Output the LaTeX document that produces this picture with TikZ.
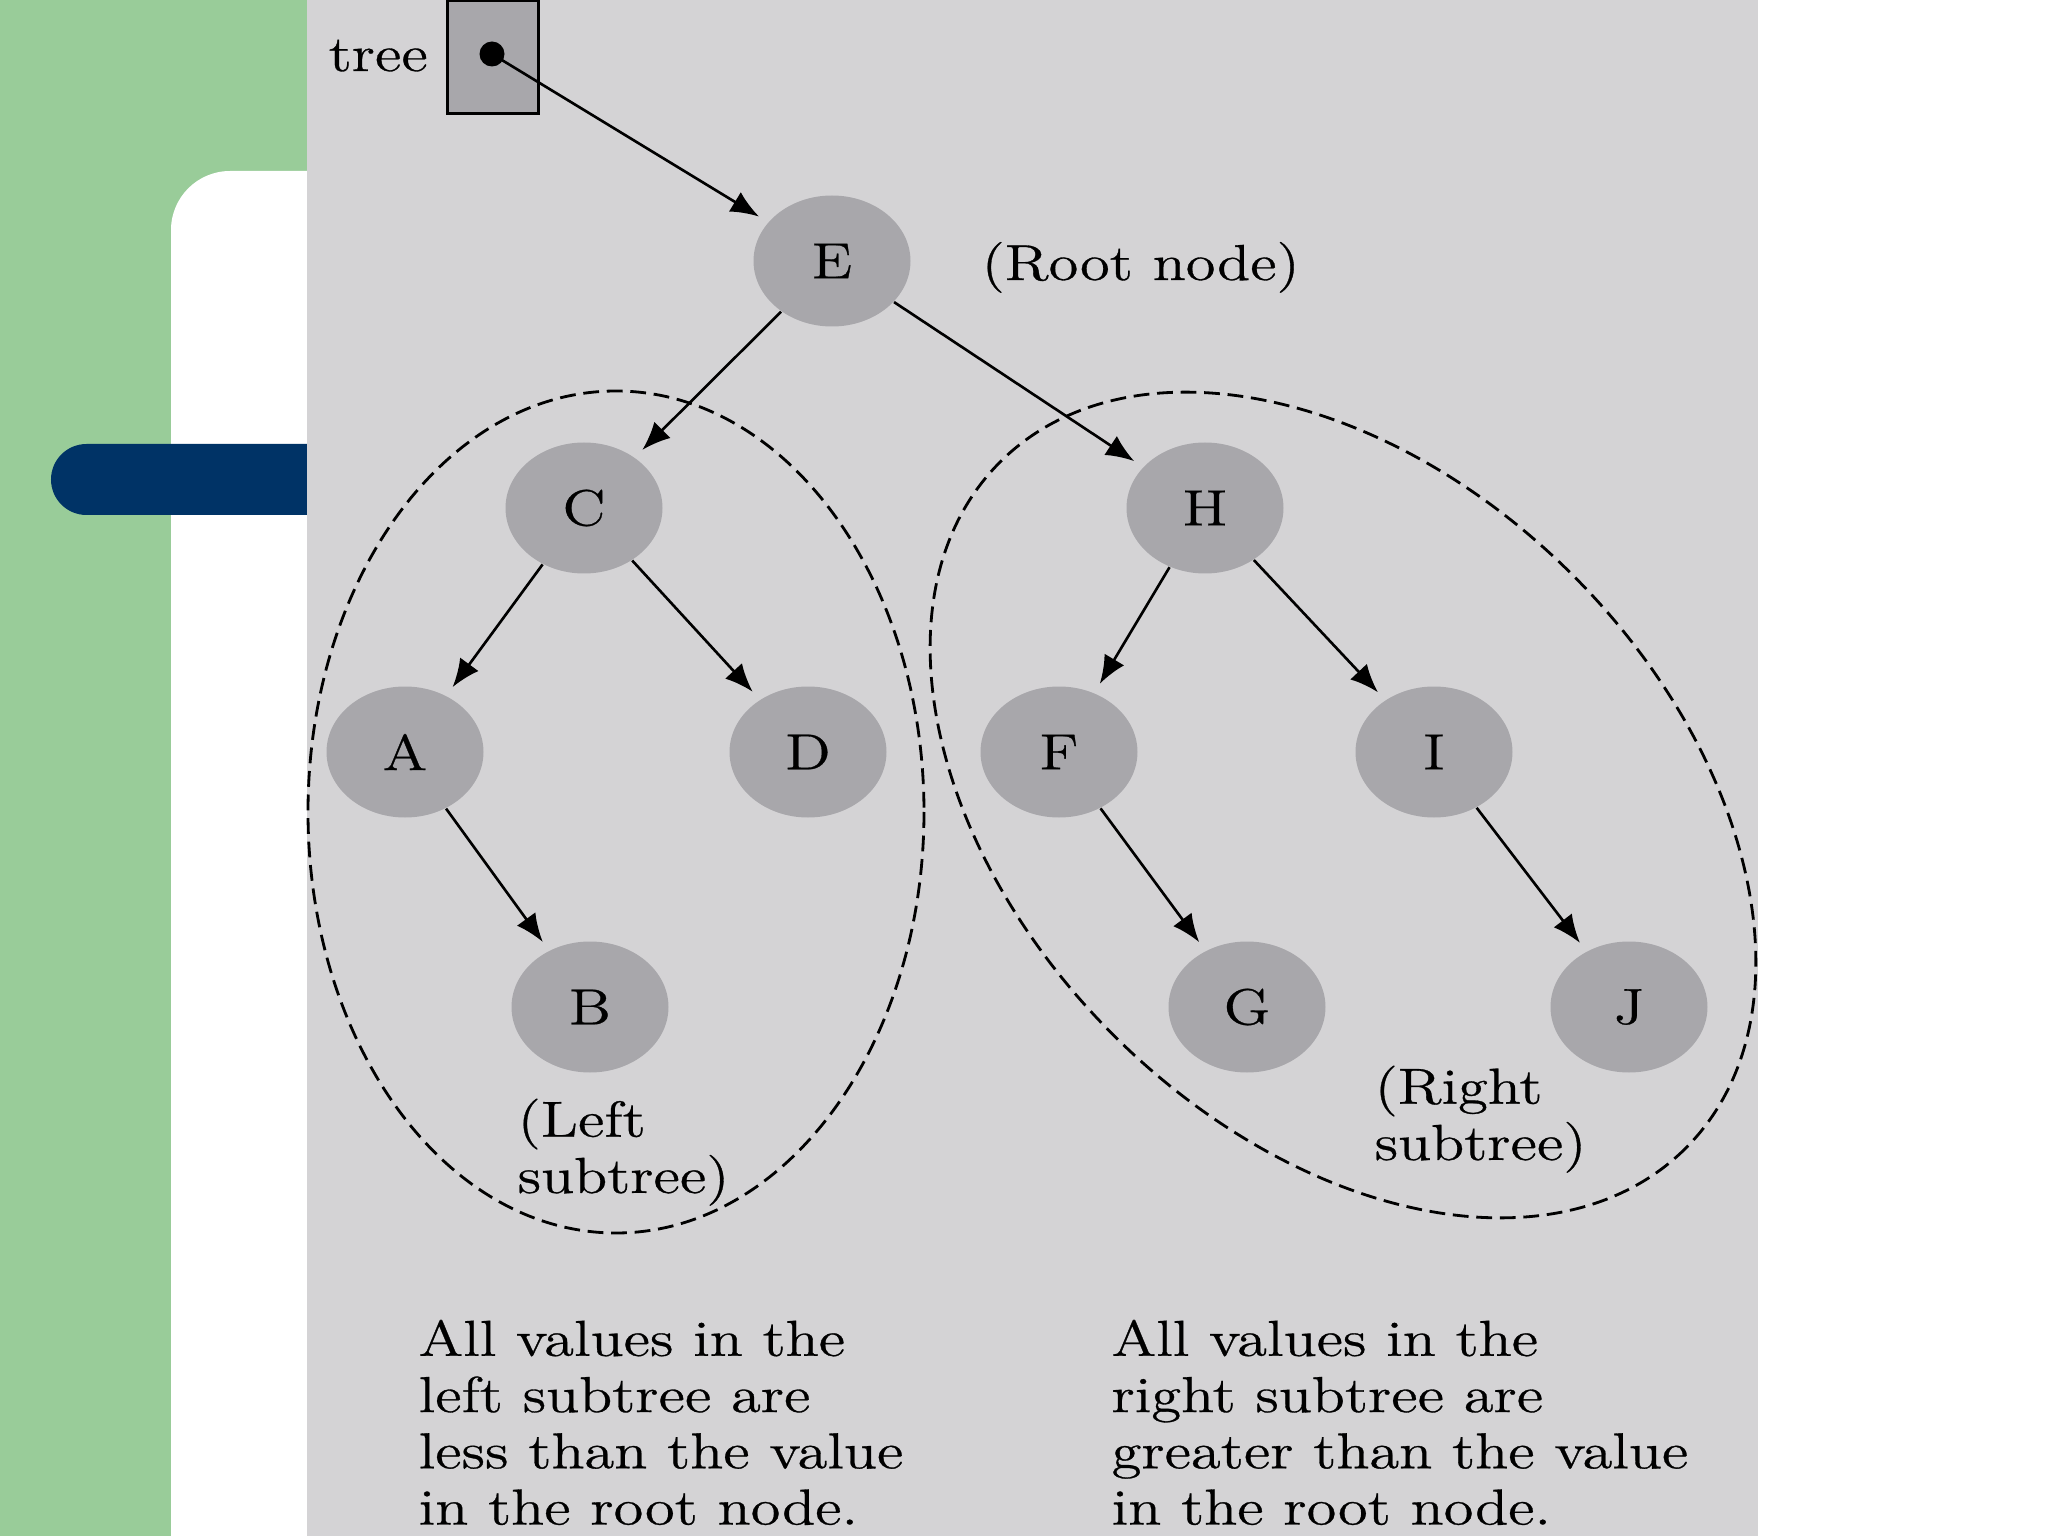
\documentclass[tikz,border=0pt]{standalone}
\usepackage{fontspec}
\setmainfont{lmroman12-regular}[Extension=.otf, FakeStretch=1.2, FakeBold=0.6]
\usetikzlibrary{arrows.meta, shapes.geometric}
\definecolor{slidegreen}{RGB}{153,204,153}
\definecolor{slidenavy}{RGB}{0,51,102}
\definecolor{panelgray}{RGB}{212,211,213}
\definecolor{keygray}{RGB}{168,167,171}

\begin{document}
\begin{tikzpicture}[y=-1cm,
  every node/.style={font=\fontsize{14.4}{16}\selectfont},
  key/.style={ellipse, fill=keygray, minimum width=1.57cm, minimum height=1.31cm, inner sep=0pt},
  link/.style={-{Latex[length=8pt,width=6.5pt]}, line width=0.75pt, shorten >=3pt},
  subtree/.style={dash pattern=on 4.5pt off 2.2pt, line width=0.8pt},
  note/.style={anchor=north west, inner sep=0pt, align=left}]
\useasboundingbox (0,0) rectangle (20.48,15.36);
\fill [white] (0,0) rectangle (20.48,15.36);
\fill [slidegreen] (0,0) rectangle (3.07,15.36);
\fill [white, rounded corners=0.59cm] (1.71,17) |- (4,1.71) -- (4,17) -- cycle;
\fill [slidenavy, rounded corners=0.355cm] (0.51,4.44) rectangle (4,5.15);
\fill [panelgray] (3.07,0) rectangle (17.58,15.36);

\draw [subtree] (6.16,8.12) ellipse [x radius=3.08, y radius=4.21];
\draw [subtree, rotate around={-45:(13.43,8.05)}] (13.43,8.05) ellipse [x radius=4.85, y radius=3.25];

\node [draw, line width=0.9pt, fill=keygray, minimum width=0.91cm, minimum height=1.13cm, inner sep=0pt] (treebox) at (4.93,0.57) {};
\node [circle, fill=black, inner sep=0pt, minimum size=0.25cm] (ptr) at (4.92,0.54) {};
\node [anchor=base west, inner sep=0pt] (treelabel) at (3.28,0.71) {tree};

\foreach \name/\x/\y in {E/8.32/2.61, C/5.84/5.08, H/12.05/5.08, A/4.05/7.52, D/8.08/7.52,
                         F/10.59/7.52, I/14.34/7.52, B/5.90/10.07, G/12.47/10.07, J/16.29/10.07}
  \node [key] (\name) at (\x,\y) {\name};

\draw [link] (ptr.center) -- (E);
\foreach \from/\to in {E/C, E/H, C/A, C/D, H/F, H/I, A/B, F/G, I/J}
  \draw [link] (\from) -- (\to);

\node [anchor=base west, inner sep=0pt] (rootlabel) at (9.81,2.80) {(Root node)};
\node [note] (leftlabel) at (5.17,10.98) {(Left\\subtree)};
\node [note] (rightlabel) at (13.74,10.65) {(Right\\subtree)};
\node [note] (lefttext) at (4.18,13.19) {All values in the\\left subtree are\\less than the value\\in the root node.};
\node [note] (righttext) at (11.11,13.19) {All values in the\\right subtree are\\greater than the value\\in the root node.};
\end{tikzpicture}
\end{document}
